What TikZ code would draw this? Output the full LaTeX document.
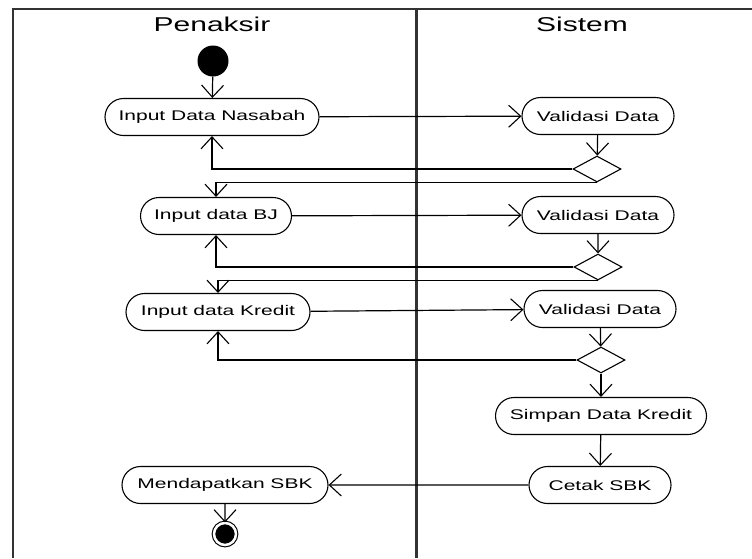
\documentclass[tikz,border=0pt]{standalone}
\usepackage{fontspec}
\usetikzlibrary{arrows.meta,shapes.geometric,shapes.misc}
\newfontfamily\lanefont[FakeStretch=1.5]{Liberation Sans}
\tikzset{
  action/.style={rounded rectangle, draw, line width=1.1pt, minimum height=37pt,
    inner xsep=2pt, font=\lanefont\fontsize{14}{16}\selectfont},
  decision/.style={diamond, draw, line width=1.1pt, minimum width=48pt,
    minimum height=26pt, inner sep=0pt},
  flow/.style={line width=1.2pt, -{Straight Barb[length=12pt,width=22pt,line width=1.1pt]}},
  lanehead/.style={font=\lanefont\fontsize{20}{24}\selectfont}
}

\begin{document}
\begin{tikzpicture}[x=1pt, y=-1pt]
\useasboundingbox (0,0) rectangle (752,558);

% swimlanes
\draw[line width=2.2pt, black!80] (13,558) -- (13,9) -- (752,9);
\draw[line width=3pt, black!80] (416,9) -- (416,558);
\node[lanehead] (penaksir) at (212,24) {Penaksir};
\node[lanehead] (sistem) at (582,24) {Sistem};

% penaksir lane
\node[circle, fill=black, minimum size=31pt, inner sep=0pt] (start) at (213,61) {};
\node[action, minimum width=218pt] (nasabah) at (212,117) {Input Data Nasabah};
\node[action, minimum width=155pt] (bj) at (216,216) {Input data BJ};
\node[action, minimum width=188pt] (kredit) at (218,312) {Input data Kredit};
\node[action, minimum width=210pt] (sbk) at (225,485) {Mendapatkan SBK};
\node[circle, draw, fill=black, double, double distance=2.5pt, line width=1.1pt,
  minimum size=22pt, inner sep=0pt] (end) at (225,534) {};

% sistem lane
\node[action, minimum width=156pt] (valnasabah) at (598,116) {Validasi Data};
\node[decision] (decnasabah) at (597,169) {};
\node[action, minimum width=156pt] (valbj) at (598,215) {Validasi Data};
\node[decision] (decbj) at (598,267) {};
\node[action, minimum width=156pt] (valkredit) at (600,309) {Validasi Data};
\node[decision] (deckredit) at (601,360) {};
\node[action, minimum width=215pt] (simpan) at (601,416) {Simpan Data Kredit};
\node[action, minimum width=146pt] (cetak) at (600,485) {Cetak SBK};

\draw[flow] (start) -- (nasabah);
\draw[flow] (nasabah) -- (valnasabah);
\draw[flow] (valnasabah) -- (decnasabah);
\draw[flow] (decnasabah.west) -| (nasabah.south);
\draw[flow] (decnasabah.south) -| (bj.north);

\draw[flow] (bj) -- (valbj);
\draw[flow] (valbj) -- (decbj);
\draw[flow] (decbj.west) -| (bj.south);
\draw[flow] (decbj.south) -| (kredit.north);

\draw[flow] (kredit) -- (valkredit);
\draw[flow] (valkredit) -- (deckredit);
\draw[flow] (deckredit.west) -| (kredit.south);
\draw[flow] (deckredit) -- (simpan);
\draw[flow] (simpan) -- (cetak);
\draw[flow] (cetak) -- (sbk);
\draw[flow] (sbk) -- (end);
\end{tikzpicture}
\end{document}
